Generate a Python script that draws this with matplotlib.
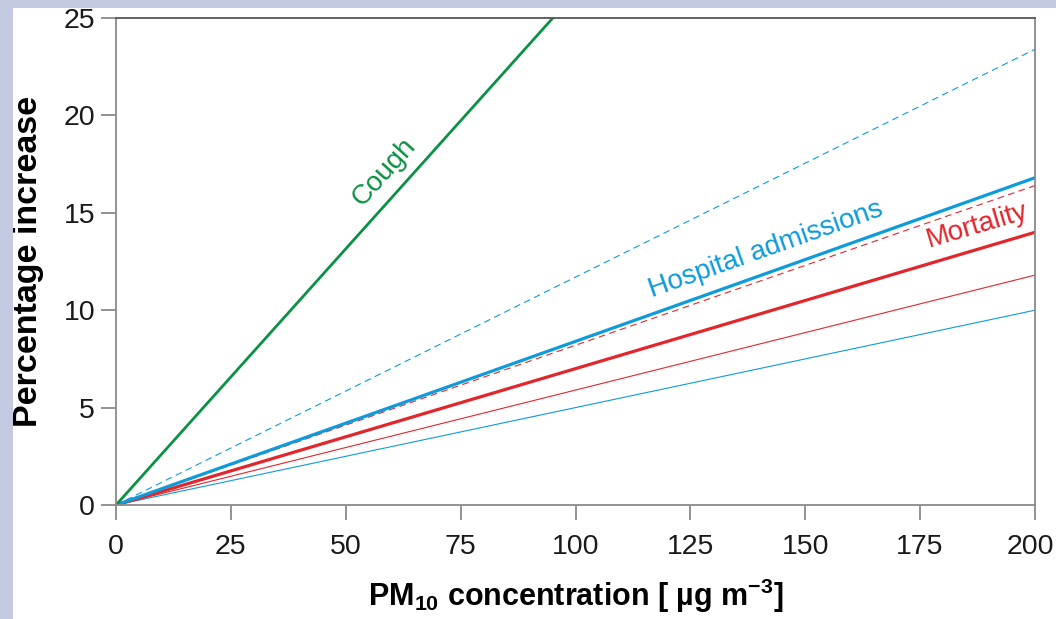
import matplotlib
matplotlib.use("Agg")
import matplotlib.pyplot as plt
from matplotlib.patches import Rectangle
from matplotlib.transforms import ScaledTranslation

plt.rcParams['font.family'] = ['Liberation Sans', 'DejaVu Sans']
plt.rcParams['mathtext.fontset'] = 'custom'
plt.rcParams['mathtext.rm'] = 'Liberation Sans:bold'
plt.rcParams['mathtext.bf'] = 'Liberation Sans:bold'

# Data: PM10 concentration and percentage increase (linear relations)
conc = [0, 200]
cough = [0, 52.6]
hosp_central = [0, 16.8]
hosp_upper = [0, 23.4]
hosp_lower = [0, 10.0]
mort_central = [0, 14.0]
mort_upper = [0, 16.4]
mort_lower = [0, 11.8]
xticks = [0, 25, 50, 75, 100, 125, 150, 175, 200]
yticks = [0, 5, 10, 15, 20, 25]

green = '#0A9144'
blue = '#0D9BDC'
red = '#E2262B'

fig = plt.figure(figsize=(10.56, 6.19), dpi=100)
fig.patch.set_facecolor('white')
fig.patches.append(Rectangle((0, 0), 13/1056, 1, transform=fig.transFigure,
                             facecolor='#C5CAE3', edgecolor='none', zorder=0))
fig.patches.append(Rectangle((0, 1 - 8/619), 1, 8/619, transform=fig.transFigure,
                             facecolor='#C5CAE3', edgecolor='none', zorder=0))

ax = fig.add_axes([116/1056, 1 - 505/619, (1035 - 116)/1056, (505 - 18)/619])

ax.plot(conc, hosp_lower, color=blue, lw=0.8)
ax.plot(conc, mort_lower, color=red, lw=0.8)
ax.plot(conc, hosp_upper, color=blue, lw=0.8, ls=(0, (6, 4)))
ax.plot(conc, mort_upper, color=red, lw=0.8, ls=(0, (6, 4)))
ax.plot(conc, mort_central, color=red, lw=2.3)
ax.plot(conc, hosp_central, color=blue, lw=2.3)
ax.plot(conc, cough, color=green, lw=2.0)

ax.set_xlim(0, 200)
ax.set_ylim(0, 25)
ax.set_xticks(xticks)
ax.set_yticks(yticks)
ax.tick_params(axis='both', direction='out', length=11, width=1.2, color='#808080',
               labelsize=20.5, labelcolor='#1a1a1a')
ax.tick_params(axis='x', pad=10)
ax.tick_params(axis='y', pad=4)
for s in ['left', 'bottom', 'right']:
    ax.spines[s].set_color('#8a8a8a')
    ax.spines[s].set_linewidth(1.3)
ax.spines['top'].set_color('#555555')
ax.spines['top'].set_linewidth(1.3)

# nudge the last x tick label so it stays inside the figure
last = ax.get_xticklabels()[-1]
last.set_transform(last.get_transform() + ScaledTranslation(-5/100, 0, fig.dpi_scale_trans))

ax.set_ylabel('Percentage increase', fontsize=24.5, fontweight='bold', labelpad=14)
ax.set_xlabel(r'PM$_{\mathbf{10}}$ concentration [ µg m$^{\mathbf{-3}}$]',
              fontsize=22, fontweight='bold', labelpad=12)

ax.text(58.3, 17.1, 'Cough', color=green, fontsize=20, rotation=48,
        ha='center', va='center')
ax.text(141.5, 13.1, 'Hospital admissions', color=blue, fontsize=20, rotation=19.5,
        ha='center', va='center')
ax.text(187.5, 14.35, 'Mortality', color=red, fontsize=20, rotation=16.5,
        ha='center', va='center')

fig.savefig('out.png', dpi=100)
